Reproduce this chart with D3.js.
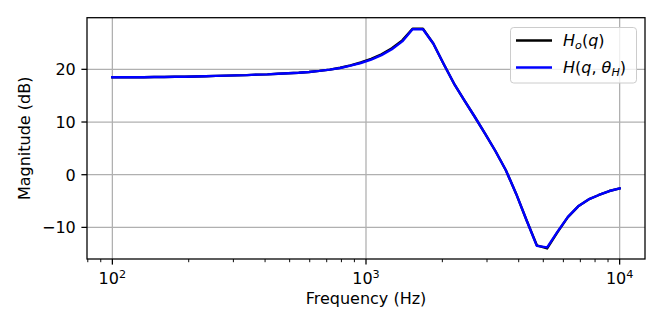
<!DOCTYPE html>
<html>
<head>
<meta charset="utf-8">
<script src="https://cdn.jsdelivr.net/npm/d3@7"></script>
<style>
  html, body { margin: 0; padding: 0; background: #fff; }
  svg text { font-family: "DejaVu Sans", sans-serif; fill: #000; }
</style>
</head>
<body>
<svg id="chart" width="664" height="332"></svg>
<script>
// ---- data ----
const freqs = [100, 110, 121, 133, 146, 160, 176, 193, 212, 233,
               256, 281, 309, 339, 373, 409, 450, 494, 543, 596,
               655, 720, 791, 869, 954, 1048, 1151, 1265, 1390, 1526,
               1677, 1842, 2024, 2223, 2442, 2683, 2947, 3237, 3556, 3907,
               4292, 4715, 5179, 5690, 6251, 6866, 7543, 8286, 9103, 10000];
const magHo = [18.5, 18.5, 18.5, 18.5, 18.55, 18.55, 18.6, 18.6, 18.65, 18.7,
               18.75, 18.8, 18.85, 18.9, 19.0, 19.05, 19.15, 19.25, 19.35, 19.5,
               19.7, 19.95, 20.3, 20.75, 21.3, 22.0, 22.85, 24.0, 25.5, 27.7,
               27.7, 24.9, 21.0, 17.3, 14.1, 11.0, 7.8, 4.5, 0.9, -3.6,
               -8.6, -13.4, -14.0, -10.9, -8.05, -6.0, -4.7, -3.85, -3.1, -2.6];
const magH  = [18.5, 18.5, 18.5, 18.5, 18.55, 18.55, 18.6, 18.6, 18.65, 18.7,
               18.75, 18.8, 18.85, 18.9, 19.0, 19.05, 19.15, 19.25, 19.35, 19.5,
               19.7, 19.95, 20.25, 20.7, 21.2, 21.85, 22.7, 23.8, 25.3, 27.6,
               27.6, 24.9, 21.0, 17.3, 14.1, 11.0, 7.8, 4.5, 0.9, -3.6,
               -8.6, -13.5, -13.8, -10.8, -8.0, -6.0, -4.7, -3.85, -3.1, -2.6];
const xTicks = [100, 1000, 10000];
const xTickExp = ["2", "3", "4"];
const yTicks = [-10, 0, 10, 20];
const seriesNames = ["Ho", "H"];
const seriesColors = ["#000000", "#0000ff"];

// ---- layout ----
const svg = d3.select("#chart");
const L = 87, R = 645, T = 17.7, B = 259;
const x = d3.scaleLog().domain([Math.pow(10, 1.9), Math.pow(10, 4.1)]).range([L, R]);
const y = d3.scaleLinear().domain([-16.0, 29.8]).range([B, T]);
const fs = 16;
const majLen = 5.6, minLen = 3.2, pad = 5.6;

// grid
const grid = svg.append("g");
xTicks.forEach(v => grid.append("line")
  .attr("x1", x(v)).attr("x2", x(v)).attr("y1", T).attr("y2", B)
  .attr("stroke", "#b0b0b0").attr("stroke-width", 1.28));
yTicks.forEach(v => grid.append("line")
  .attr("x1", L).attr("x2", R).attr("y1", y(v)).attr("y2", y(v))
  .attr("stroke", "#b0b0b0").attr("stroke-width", 1.28));

// lines
const line = d3.line().x((d, i) => x(freqs[i])).y(d => y(d));
[magHo, magH].forEach((s, k) => {
  svg.append("path").datum(s)
    .attr("d", line)
    .attr("fill", "none")
    .attr("stroke", seriesColors[k])
    .attr("stroke-width", 2.4)
    .attr("stroke-linejoin", "round")
    .attr("stroke-linecap", "square");
});

// x axis ticks (major + minor)
const axX = svg.append("g");
const minor = [];
for (let e = 1; e <= 4; e++) for (let m = 2; m <= 9; m++) {
  const v = m * Math.pow(10, e);
  if (v >= x.domain()[0] && v <= x.domain()[1]) minor.push(v);
}
minor.forEach(v => axX.append("line")
  .attr("x1", x(v)).attr("x2", x(v)).attr("y1", B).attr("y2", B + minLen)
  .attr("stroke", "#000").attr("stroke-width", 0.96));
xTicks.forEach((v, i) => {
  axX.append("line")
    .attr("x1", x(v)).attr("x2", x(v)).attr("y1", B).attr("y2", B + majLen)
    .attr("stroke", "#000").attr("stroke-width", 1.28);
  const t = axX.append("text")
    .attr("x", x(v)).attr("y", 284)
    .attr("text-anchor", "middle")
    .attr("font-size", fs);
  t.append("tspan").text("10");
  t.append("tspan").attr("dy", -6.5).attr("font-size", fs * 0.7).text(xTickExp[i]);
});

// y axis ticks
const axY = svg.append("g");
yTicks.forEach(v => {
  axY.append("line")
    .attr("x1", L - majLen).attr("x2", L).attr("y1", y(v)).attr("y2", y(v))
    .attr("stroke", "#000").attr("stroke-width", 1.28);
  axY.append("text")
    .attr("x", L - majLen - pad).attr("y", y(v) + 5.8)
    .attr("text-anchor", "end")
    .attr("font-size", fs)
    .text(v < 0 ? "\u2212" + Math.abs(v) : String(v));
});

// frame
svg.append("rect")
  .attr("x", L).attr("y", T).attr("width", R - L).attr("height", B - T)
  .attr("fill", "none").attr("stroke", "#000").attr("stroke-width", 1.28);

// axis labels
svg.append("text")
  .attr("x", (L + R) / 2).attr("y", 304)
  .attr("text-anchor", "middle").attr("font-size", fs)
  .text("Frequency (Hz)");
svg.append("text")
  .attr("transform", `translate(30,${(T + B) / 2}) rotate(-90)`)
  .attr("text-anchor", "middle").attr("font-size", fs)
  .text("Magnitude (dB)");

// legend
const lg = svg.append("g");
lg.append("rect")
  .attr("x", 510.5).attr("y", 27.5).attr("width", 126).attr("height", 55.5)
  .attr("rx", 3.2).attr("ry", 3.2)
  .attr("fill", "#fff").attr("fill-opacity", 0.8)
  .attr("stroke", "#cccccc").attr("stroke-width", 1);
const rowsY = [40.5, 67.5];
seriesNames.forEach((n, k) => {
  lg.append("line")
    .attr("x1", 516).attr("x2", 552).attr("y1", rowsY[k]).attr("y2", rowsY[k])
    .attr("stroke", seriesColors[k]).attr("stroke-width", 2.4);
  const t = lg.append("text").attr("x", 563).attr("y", rowsY[k] + 5.5).attr("font-size", fs);
  if (k === 0) {
    t.append("tspan").attr("font-style", "italic").text("H");
    t.append("tspan").attr("font-style", "italic").attr("font-size", fs * 0.7).attr("dy", 3).text("o");
    t.append("tspan").attr("dy", -3).text("(");
    t.append("tspan").attr("font-style", "italic").text("q");
    t.append("tspan").text(")");
  } else {
    t.append("tspan").attr("font-style", "italic").text("H");
    t.append("tspan").text("(");
    t.append("tspan").attr("font-style", "italic").text("q");
    t.append("tspan").text(", ");
    t.append("tspan").attr("font-style", "italic").text("\u03B8");
    t.append("tspan").attr("font-style", "italic").attr("font-size", fs * 0.7).attr("dy", 3).text("H");
    t.append("tspan").attr("dy", -3).text(")");
  }
});
</script>
</body>
</html>
